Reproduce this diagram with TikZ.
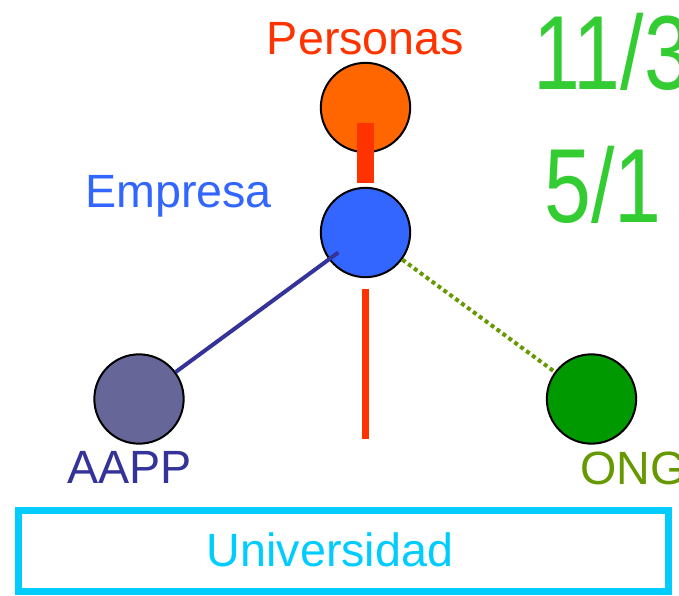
\documentclass[tikz,border=0pt]{standalone}
\usepackage{fontspec}
\setmainfont{Liberation Sans}
\usetikzlibrary{positioning}
\definecolor{persorange}{HTML}{FF6600}
\definecolor{persred}{HTML}{FF3300}
\definecolor{empblue}{HTML}{3366FF}
\definecolor{aappgray}{HTML}{666699}
\definecolor{aappblue}{HTML}{333399}
\definecolor{onggreen}{HTML}{009900}
\definecolor{ongolive}{HTML}{669900}
\definecolor{unicyan}{HTML}{00CCFF}
\definecolor{numgreen}{HTML}{33CC33}
\newcommand{\narrownum}[1]{\scalebox{0.8}[1]{#1}}

\begin{document}
\begin{tikzpicture}[x=0.75pt, y=-0.75pt, circ/.style={draw=black, line width=1.5pt, circle, inner sep=0pt, minimum size=67pt}, lbl/.style={inner sep=0pt, font=\fontsize{35}{42}\selectfont}, big/.style={inner sep=0pt, anchor=base west, text=numgreen, font=\fontsize{79}{90}\selectfont}]
    \useasboundingbox (0,0) rectangle (679,596);

    % nodes
    \node[circ, fill=persorange] (personas) at (365.5,107.5) {};
    \node[circ, fill=empblue] (empresa) at (365.5,232.5) {};
    \node[circ, fill=aappgray] (aapp) at (139,399) {};
    \node[circ, fill=onggreen] (ong) at (591.5,399) {};
    \coordinate (bottom) at (365.5,439);
    \node[draw=unicyan, line width=5.25pt, minimum width=487.5pt, minimum height=61pt] (uni) at (343,551) {};

    % labels
    \node[lbl, text=persred] (personaslbl) [above=5pt of personas] {Personas};
    \node[lbl, text=empblue, anchor=base] (empresalbl) at (178.5,207) {Empresa};
    \node[lbl, text=aappblue] (aapplbl) [below=5pt of aapp, xshift=-7pt] {AAPP};
    \node[lbl, text=ongolive, anchor=base west] (onglbl) at (580,484) {ONG};
    \node[lbl, text=unicyan] (unilbl) at (330,550) {Universidad};
    \node[big] (ratioa) at (533,89) {\narrownum{11/3}};
    \node[big] (ratiob) at (544,222) {\narrownum{5/1}};

    % links
    \draw[persred, line width=12.75pt, shorten <=11.5pt, shorten >=3pt] (personas.center) -- (empresa);
    \draw[persred, line width=5pt, shorten <=8pt] (empresa) -- (bottom);
    \draw[aappblue, line width=3pt, shorten >=-9pt] (aapp) -- (empresa);
    \draw[ongolive, line width=3pt, dash pattern=on 3pt off 2.5pt] (empresa) -- (ong);
\end{tikzpicture}
\end{document}
